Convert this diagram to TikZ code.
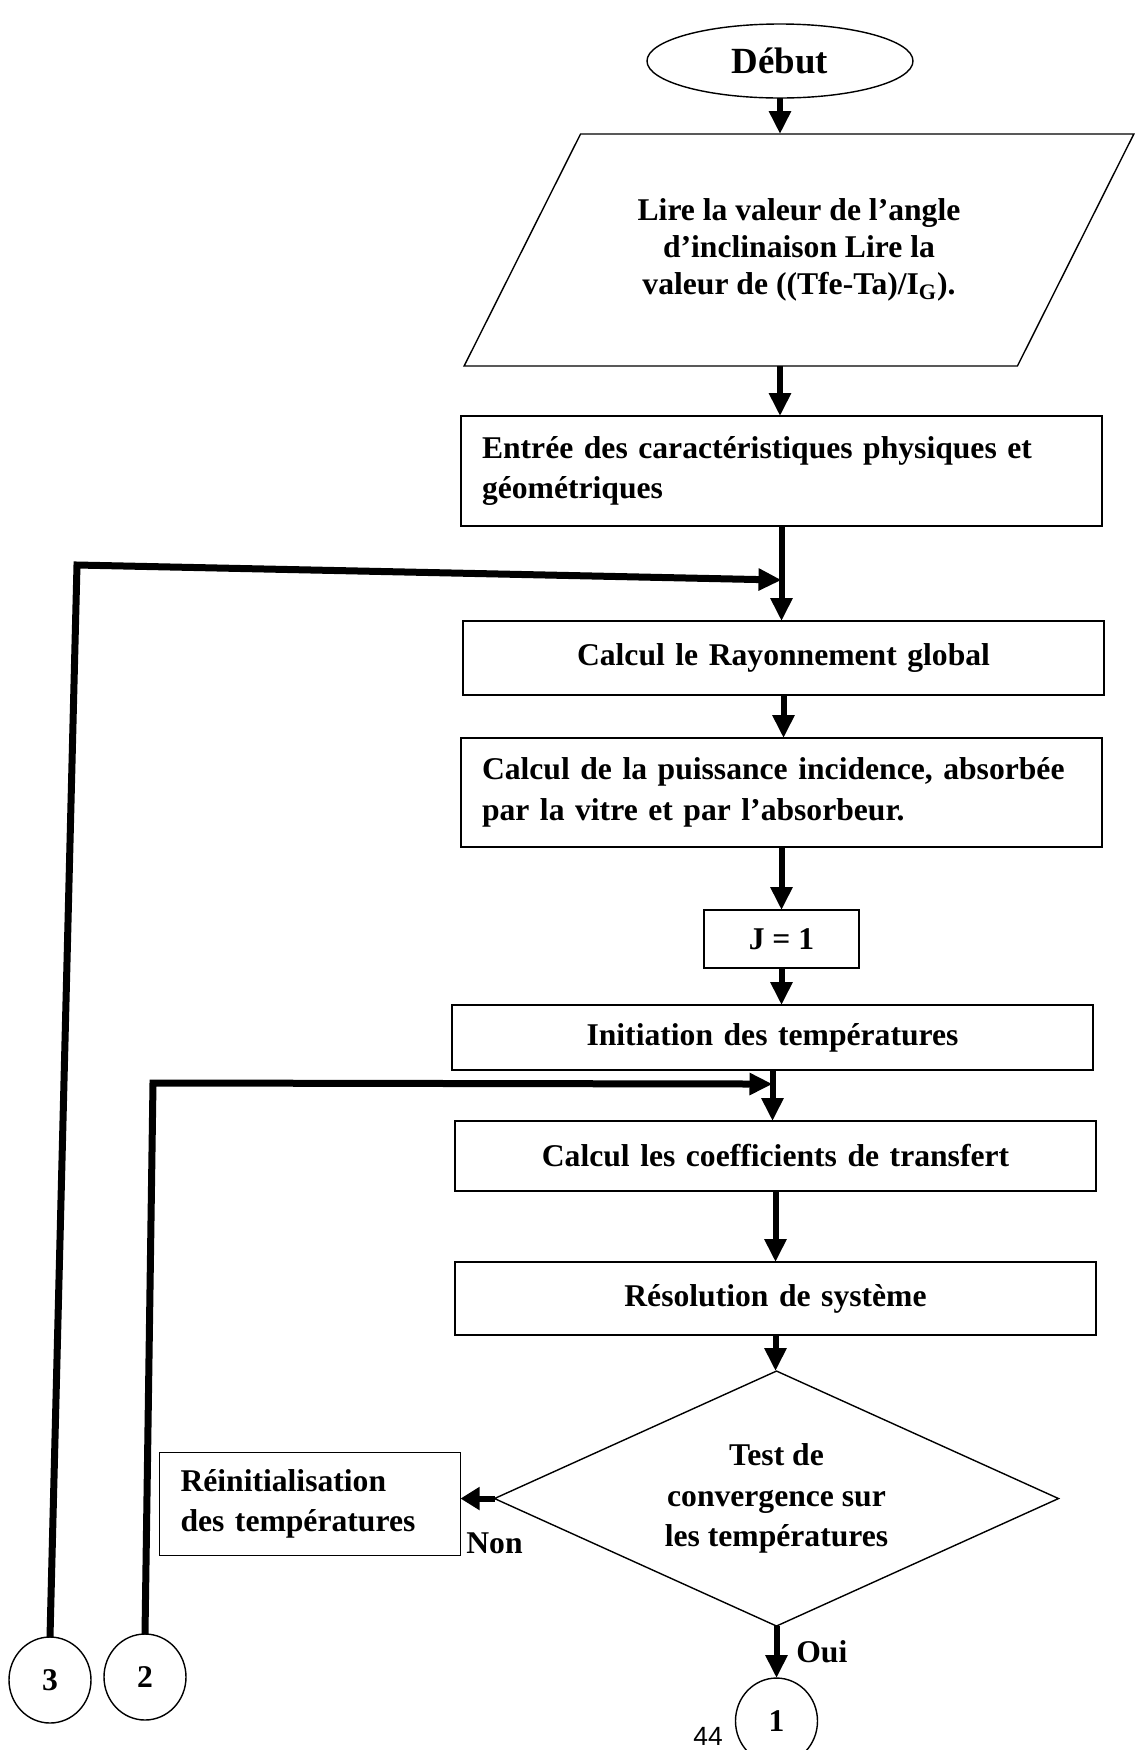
\documentclass[tikz,border=0pt]{standalone}
\usepackage{fontspec}
\setmainfont{Liberation Serif}
\newfontfamily\pagenumfont{Liberation Sans}
\usetikzlibrary{positioning,shapes.geometric,arrows.meta}
\tikzset{
  every node/.style={text=black, font=\fontsize{18}{23}\selectfont\bfseries},
  proc/.style={rectangle, draw=black, line width=0.8pt, text width=11.98cm, inner xsep=0.42cm, inner ysep=0pt, outer sep=0pt},
  io/.style={trapezium, draw=black, line width=0.8pt, trapezium left angle=50, trapezium right angle=130,
    trapezium stretches=true, minimum width=13.44cm, minimum height=4.64cm, align=center, inner sep=0pt, outer sep=0pt},
  terminal/.style={ellipse, draw=black, line width=0.8pt, minimum width=5.32cm, minimum height=1.48cm, inner sep=0pt, outer sep=0pt},
  decision/.style={diamond, draw=black, line width=0.8pt, aspect=2.2, minimum width=11.28cm, minimum height=5.1cm, align=center, inner sep=0pt, outer sep=0pt},
  connector/.style={ellipse, draw=black, line width=0.8pt, minimum width=1.64cm, minimum height=1.72cm, inner sep=0pt, outer sep=0pt},
  flow/.style={draw=black, line width=0.12cm, -{Triangle[length=0.46cm, width=0.42cm]}},
  back/.style={draw=black, line width=0.14cm, -{Triangle[length=0.46cm, width=0.42cm]}}
}
\begin{document}
\begin{tikzpicture}
  \useasboundingbox (0,0) rectangle (22.7,-35);
  % Nodes
  \node (debut) [terminal, font=\fontsize{21}{25}\selectfont\bfseries] at (15.6,-1.22) {Début};
  \node (lire) [io, font=\fontsize{18}{21}\selectfont\bfseries, below=0.72cm of debut, xshift=0.38cm] {Lire la valeur de l’angle\\ d’inclinaison Lire la\\ valeur de ((Tfe-Ta)/I\textsubscript{G}).};
  \node (entree) [proc, align=left, minimum height=2.2cm, below=1cm of lire, xshift=-0.35cm] {Entrée des caractéristiques physiques et\\ géométriques};
  \node (rayon) [proc, align=center, minimum height=1.48cm, below=1.9cm of entree, xshift=0.04cm] {Calcul le Rayonnement global};
  \node (puiss) [proc, align=left, minimum height=2.18cm, below=0.86cm of rayon, xshift=-0.04cm] {Calcul de la puissance incidence, absorbée\\ par la vitre et par l’absorbeur.};
  \node (j1) [rectangle, draw=black, line width=0.8pt, outer sep=0pt, minimum width=3.1cm, minimum height=1.16cm, below=1.26cm of puiss] {J = 1};
  \node (init) [proc, align=center, minimum height=1.3cm, below=0.74cm of j1, xshift=-0.18cm] {Initiation des températures};
  \node (coef) [proc, align=center, minimum height=1.4cm, below=1.02cm of init, xshift=0.06cm] {Calcul les coefficients de transfert};
  \node (resol) [proc, align=center, minimum height=1.46cm, below=1.42cm of coef] {Résolution de système};
  \node (test) [decision, below=0.72cm of resol, xshift=0.02cm] {Test de\\ convergence sur\\ les températures};
  \node (reinit) [proc, align=left, text width=5.18cm, minimum height=2.06cm, left=0.68cm of test, yshift=-0.11cm] {Réinitialisation\\ des températures};
  \node (c1) [connector, below=1.04cm of test] {1};
  \node (c3) [connector] at (1.0,-33.6) {3};
  \node (c2) [connector, right=0.26cm of c3, yshift=0.06cm] {2};
  \node (pagenum) [font=\pagenumfont\fontsize{15}{18}\selectfont, anchor=base] at (14.16,-34.9) {44};

  % Loop corners
  \coordinate (k3) at (1.54,-11.3);
  \coordinate (m3) at ([yshift=-1.08cm]entree.south);
  \coordinate (k2) at (3.06,-21.66);
  \coordinate (m2) at ([yshift=-0.28cm]init.south);

  % Connectors
  \draw[flow] (debut.south) -- (debut.south |- lire.north);
  \draw[flow] (lire.south -| debut.south) -- (debut.south |- entree.north);
  \draw[flow] (entree.south) -- (entree.south |- rayon.north);
  \draw[flow] (rayon.south) -- (rayon.south |- puiss.north);
  \draw[flow] (puiss.south) -- (puiss.south |- j1.north);
  \draw[flow] (j1.south) -- (j1.south |- init.north);
  \draw[flow] (init.south) -- (init.south |- coef.north);
  \draw[flow] (coef.south) -- (coef.south |- resol.north);
  \draw[flow] (resol.south) -- (resol.south |- test.north);
  \draw[flow, -{Triangle[length=0.38cm, width=0.44cm]}] (test.west) -- (test.west -| reinit.east) node[at start, below=0.5cm] {Non};
  \draw[flow] (test.south) -- (c1.north) node[midway, right=0.22cm] {Oui};
  \draw[back] (c3.north) -- (k3) -- (m3);
  \draw[back] (c2.north) -- (k2) -- (m2);
\end{tikzpicture}
\end{document}
